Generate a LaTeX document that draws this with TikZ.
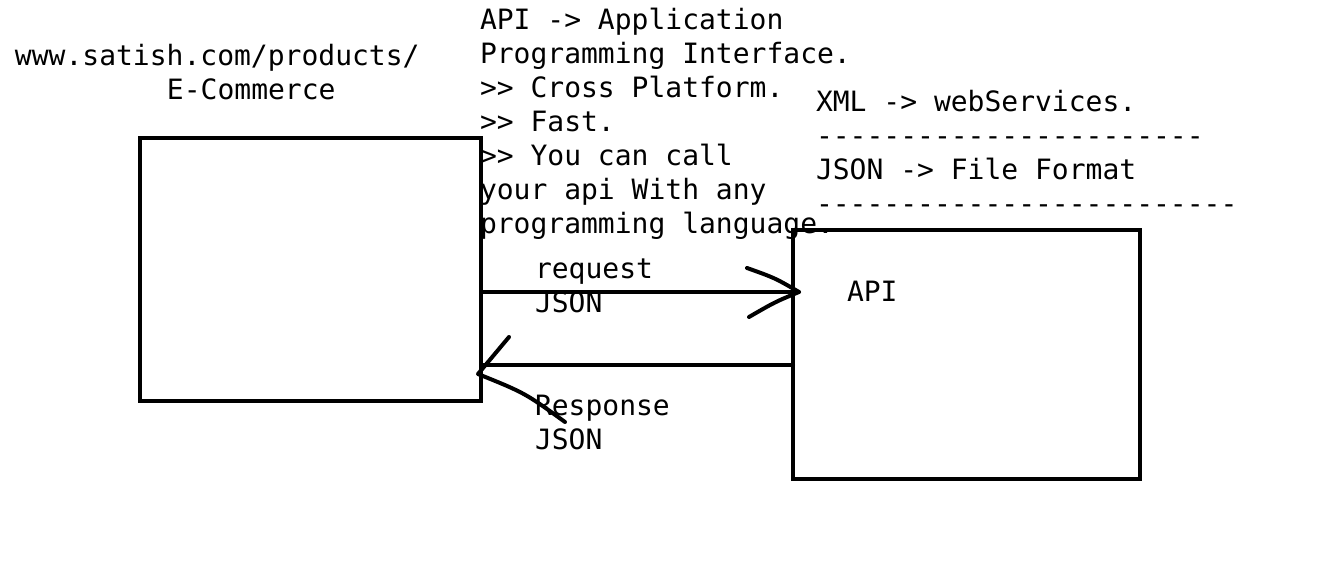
\documentclass[tikz,border=0pt]{standalone}
\usepackage{fontspec}
\setmonofont{DejaVu Sans Mono}
\begin{document}
\begin{tikzpicture}[x=1pt,y=-1pt,
  txt/.style={anchor=north west, inner sep=0pt, outer sep=0pt, align=left,
              font=\ttfamily\fontsize{28}{34}\selectfont},
  box/.style={draw, line width=4pt, inner sep=0pt, outer sep=0pt},
  conn/.style={draw, line width=4pt, line cap=round, line join=round}]
\fill[white] (0,0) rectangle (1342,569);
\useasboundingbox (0,0) rectangle (1342,569);

% boxes
\node[box, minimum width=341pt, minimum height=263pt] (lbox) at (310.5,269.5) {};
\node[box, minimum width=347pt, minimum height=249pt] (rbox) at (966.5,354.5) {};

% texts
\node[txt] (url) at (15,42.2) {\strut www.satish.com/products/\\\hspace*{152pt}E-Commerce};
\node[txt] (api) at (480,6.2) {\strut API -> Application\\Programming Interface.\\>> Cross Platform.\\>> Fast.\\>> You can call\\your api With any\\programming language.};
\node[txt] (xml) at (816,88.2) {\strut XML -> webServices.\\-----------------------\\JSON -> File Format\\-------------------------};
\node[txt] (apil) at (847,278.2) {\strut API};
\node[txt] (req) at (535,255.2) {\strut request\\JSON};
\node[txt] (resp) at (535,391.2) {\strut Response\\JSON};

% request arrow
\coordinate (rqy) at (0,292);
\coordinate (rtip) at (799,292);
\coordinate (ra1) at (747,268);
\coordinate (ra2) at (749,317);
\draw[conn] (lbox.east |- rqy) -- (rtip);
\draw[conn] (ra1) .. controls (775,278) .. (rtip) .. controls (775,302) .. (ra2);

% response arrow
\coordinate (rsy) at (0,365);
\coordinate (ltip) at (478,374);
\coordinate (la1) at (509,337);
\coordinate (la2) at (565,422);
\draw[conn] (rbox.west |- rsy) -- (lbox.east |- rsy);
\draw[conn] (la1) -- (ltip) .. controls (525,393) .. (la2);
\end{tikzpicture}
\end{document}
